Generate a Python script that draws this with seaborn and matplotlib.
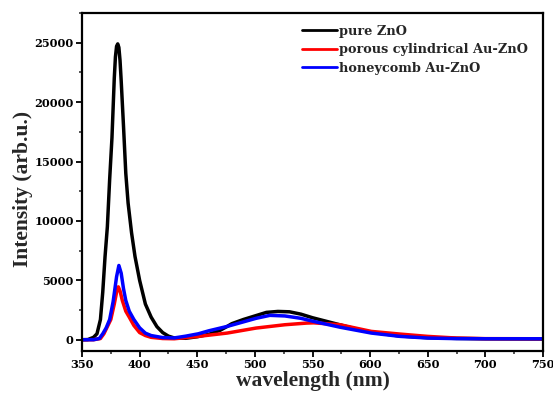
import numpy as np
import pandas as pd
import matplotlib
matplotlib.use("Agg")
import matplotlib.pyplot as plt
import seaborn as sns
from matplotlib.ticker import MultipleLocator

# ---- data ----
wl_pure = [350, 355, 360, 363, 366, 368, 370, 372, 374, 376, 377, 378, 379, 380, 381, 382,
           383, 384, 386, 388, 390, 393, 396, 400, 405, 410, 415, 420, 425, 430, 440, 450,
           460, 470, 476, 480, 490, 500, 510, 520, 530, 540, 550, 560, 572, 580, 590, 600,
           625, 650, 675, 700, 750]
int_pure = [0, 10, 200, 500, 1700, 4000, 7000, 9500, 13500, 17000, 19500, 22000, 23800,
            24700, 24900, 24600, 23500, 21800, 18000, 14000, 11500, 9000, 7000, 5000, 3000,
            1900, 1100, 600, 300, 150, 120, 250, 450, 800, 1120, 1350, 1700, 2000, 2300,
            2380, 2350, 2150, 1850, 1600, 1300, 1100, 850, 650, 320, 170, 110, 80, 60]

wl_por = [350, 360, 366, 369, 372, 375, 378, 380, 381.5, 383, 385, 388, 391, 395, 400,
          405, 410, 420, 430, 451, 476, 501, 526, 545, 551, 574, 601, 626, 650, 675,
          700, 750]
int_por = [0, 0, 100, 500, 1100, 1700, 3000, 4000, 4450, 4100, 3300, 2400, 1900, 1200,
           600, 350, 200, 100, 80, 280, 560, 980, 1260, 1400, 1420, 1260, 700, 475, 280,
           140, 90, 80]

wl_honey = [350, 360, 365, 368, 371, 374, 377, 380, 382, 384, 386, 388, 391, 395, 400,
            405, 410, 420, 430, 440, 451, 460, 476, 490, 501, 513, 526, 540, 551, 574,
            601, 626, 650, 675, 700, 750]
int_honey = [0, 0, 100, 500, 1000, 1700, 3200, 5300, 6250, 5600, 4300, 3300, 2400, 1700,
             1000, 550, 350, 180, 150, 300, 500, 750, 1120, 1500, 1800, 2050, 2000, 1800,
             1540, 1050, 560, 280, 140, 90, 80, 80]

labels = ["pure ZnO", "porous cylindrical Au-ZnO", "honeycomb Au-ZnO"]
colors = ["#000000", "#ff0000", "#0000ff"]

df = pd.concat([
    pd.DataFrame({"wavelength": wl_pure, "intensity": int_pure, "sample": labels[0]}),
    pd.DataFrame({"wavelength": wl_por, "intensity": int_por, "sample": labels[1]}),
    pd.DataFrame({"wavelength": wl_honey, "intensity": int_honey, "sample": labels[2]}),
], ignore_index=True)

sns.set_style("ticks")
plt.rcParams["font.family"] = ["DejaVu Serif"]

fig = plt.figure(figsize=(5.53, 3.93), dpi=100)
ax = fig.add_axes([82 / 553, 1 - 351 / 393, (543 - 82) / 553, (351 - 13) / 393])

for lab, col in zip(labels, colors):
    sub = df[df["sample"] == lab]
    sns.lineplot(data=sub, x="wavelength", y="intensity", color=col, lw=2.5,
                 label=lab, ax=ax, sort=False, estimator=None)

ax.set_xlim(350, 750)
ax.set_ylim(-950, 27500)
ax.xaxis.set_major_locator(MultipleLocator(50))
ax.xaxis.set_minor_locator(MultipleLocator(25))
ax.yaxis.set_major_locator(MultipleLocator(5000))
ax.yaxis.set_minor_locator(MultipleLocator(2500))

for s in ax.spines.values():
    s.set_linewidth(1.6)
    s.set_color("black")
    s.set_visible(True)

ax.tick_params(which="major", direction="out", length=4.5, width=1.3, pad=1.5,
               labelsize=8.2, colors="black")
ax.tick_params(which="minor", direction="out", length=2.5, width=1.1)
ax.tick_params(top=False, right=False, which="both")
for t in ax.get_xticklabels() + ax.get_yticklabels():
    t.set_fontweight("bold")
    t.set_family("DejaVu Serif")

ax.set_xlabel("wavelength (nm)", fontsize=15.5, fontweight="bold",
              family="Liberation Serif", va="top")
ax.set_ylabel("Intensity (arb.u.)", fontsize=15.5, fontweight="bold",
              family="Liberation Serif", va="bottom")
ax.xaxis.set_label_coords(0.5, -0.058)
ax.yaxis.set_label_coords(-0.106, 0.479)

leg = ax.legend(loc="upper left", bbox_to_anchor=(302 / 553, 1 - 25 / 393),
                bbox_transform=fig.transFigure, frameon=False, borderpad=0,
                borderaxespad=0, handlelength=2.7, handletextpad=0.2,
                labelspacing=0.42, prop={"family": "DejaVu Serif", "weight": "bold",
                                         "size": 9.3})
for line in leg.get_lines():
    line.set_linewidth(2.0)

fig.savefig("out.png", dpi=100)
